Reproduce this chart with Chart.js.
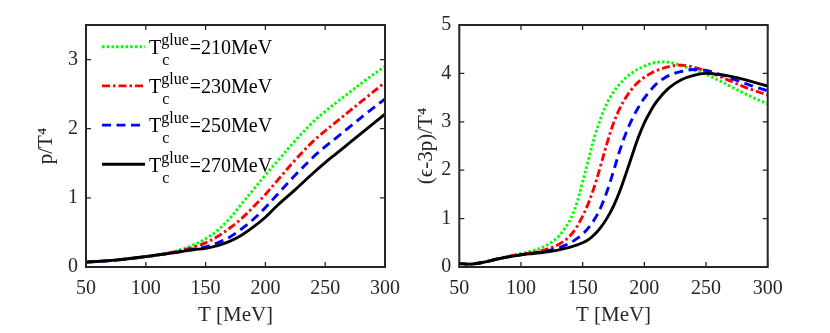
<!DOCTYPE html>
<html>
<head>
<meta charset="utf-8">
<script src="https://cdn.jsdelivr.net/npm/chart.js@4/dist/chart.umd.min.js"></script>
<style>
  body { margin: 0; background: #fff; }
  #wrap { position: relative; width: 830px; height: 333px; }
  #wrap canvas { position: absolute; top: 0; }
</style>
</head>
<body>
<div id="wrap">
  <canvas id="left" width="410" height="333" style="left:0"></canvas>
  <canvas id="right" width="420" height="333" style="left:410px"></canvas>
</div>
<script>
// Tc^glue values for the four curves
const tcGlue = ['210', '230', '250', '270'];
const colors = ['#00ff00', '#ff0000', '#0000ff', '#000000'];
const dashes = [[2.5, 2.2], [8, 3, 2.5, 3], [9, 5.5], []];

// left panel: p/T^4
const tempP = [50, 75, 100, 125, 140, 150, 160, 170, 180, 190, 200, 210, 225, 240, 250, 260, 270, 285, 300];
const p210 = [0.07, 0.10, 0.15, 0.23, 0.32, 0.41, 0.53, 0.70, 0.91, 1.12, 1.33, 1.53, 1.83, 2.10, 2.25, 2.39, 2.52, 2.72, 2.90];
const p230 = [0.07, 0.10, 0.15, 0.22, 0.29, 0.35, 0.44, 0.56, 0.70, 0.87, 1.05, 1.25, 1.55, 1.82, 1.97, 2.11, 2.25, 2.46, 2.67];
const p250 = [0.07, 0.10, 0.15, 0.21, 0.26, 0.29, 0.35, 0.43, 0.55, 0.69, 0.86, 1.05, 1.33, 1.59, 1.74, 1.88, 2.02, 2.23, 2.43];
const p270 = [0.07, 0.10, 0.15, 0.21, 0.25, 0.27, 0.31, 0.37, 0.46, 0.58, 0.72, 0.89, 1.12, 1.36, 1.51, 1.65, 1.79, 2.00, 2.21];

// right panel: (eps-3p)/T^4
const tempI = [50, 60, 70, 80, 90, 100, 110, 120, 130, 135, 140, 145, 150, 155, 160, 165, 170, 175, 180, 185, 190, 195, 200, 205, 210, 220, 230, 240, 250, 260, 270, 280, 290, 300];
const i210 = [0.07, 0.06, 0.10, 0.17, 0.23, 0.28, 0.34, 0.44, 0.62, 0.78, 0.98, 1.30, 1.76, 2.25, 2.72, 3.10, 3.40, 3.61, 3.78, 3.91, 4.01, 4.09, 4.15, 4.20, 4.23, 4.23, 4.16, 4.07, 3.98, 3.86, 3.73, 3.60, 3.48, 3.37];
const i230 = [0.07, 0.06, 0.10, 0.16, 0.22, 0.26, 0.30, 0.36, 0.46, 0.54, 0.65, 0.82, 1.05, 1.34, 1.70, 2.13, 2.58, 2.97, 3.27, 3.50, 3.68, 3.82, 3.92, 4.00, 4.06, 4.14, 4.17, 4.13, 4.05, 3.95, 3.84, 3.73, 3.64, 3.55];
const i250 = [0.07, 0.06, 0.10, 0.16, 0.21, 0.25, 0.29, 0.33, 0.39, 0.44, 0.50, 0.58, 0.68, 0.82, 1.00, 1.25, 1.58, 1.98, 2.40, 2.76, 3.05, 3.29, 3.49, 3.65, 3.79, 3.96, 4.04, 4.08, 4.06, 3.99, 3.90, 3.81, 3.72, 3.64];
const i270 = [0.07, 0.06, 0.10, 0.16, 0.21, 0.25, 0.28, 0.31, 0.35, 0.38, 0.41, 0.45, 0.50, 0.57, 0.68, 0.83, 1.02, 1.26, 1.56, 1.92, 2.30, 2.67, 2.98, 3.22, 3.42, 3.70, 3.87, 3.96, 4.00, 3.98, 3.94, 3.88, 3.81, 3.74];

const xTicks = [50, 100, 150, 200, 250, 300];
const pTicks = [0, 1, 2, 3];
const iTicks = [0, 1, 2, 3, 4, 5];

const serif = '"Liberation Serif", "DejaVu Serif", serif';
const axisColor = '#262626';

function makeSets(temps, series) {
  return series.map((vals, k) => ({
    label: 'Tc glue=' + tcGlue[k] + 'MeV',
    data: vals.map((v, j) => ({ x: temps[j], y: v })),
    borderColor: colors[k],
    borderDash: dashes[k],
    borderWidth: 2.9,
    pointRadius: 0,
    tension: 0.35,
    fill: false
  })).reverse();
}

// inward ticks on all four sides + box
const frame = {
  id: 'frame',
  afterDatasetsDraw(chart) {
    const { ctx, chartArea: a, scales: { x, y } } = chart;
    ctx.save();
    ctx.strokeStyle = axisColor;
    ctx.lineWidth = 1.3;
    ctx.beginPath();
    x.ticks.forEach(t => {
      const px = x.getPixelForValue(t.value);
      ctx.moveTo(px, a.bottom); ctx.lineTo(px, a.bottom - 5);
      ctx.moveTo(px, a.top); ctx.lineTo(px, a.top + 5);
    });
    y.ticks.forEach(t => {
      const py = y.getPixelForValue(t.value);
      ctx.moveTo(a.left, py); ctx.lineTo(a.left + 5, py);
      ctx.moveTo(a.right, py); ctx.lineTo(a.right - 5, py);
    });
    ctx.stroke();
    ctx.lineWidth = 2;
    ctx.strokeRect(a.left, a.top, a.right - a.left, a.bottom - a.top);
    ctx.restore();
  }
};

// legend with T_c^glue drawn as sub/superscript
const texLegend = {
  id: 'texLegend',
  afterDraw(chart) {
    const { ctx, chartArea: a } = chart;
    ctx.save();
    tcGlue.forEach((tc, k) => {
      const base = a.top + 29 + k * 39.2;
      const ly = base - 7.3;
      ctx.strokeStyle = colors[k];
      ctx.lineWidth = 2.9;
      ctx.setLineDash(dashes[k]);
      ctx.beginPath();
      ctx.moveTo(a.left + 16, ly);
      ctx.lineTo(a.left + 59, ly);
      ctx.stroke();
      ctx.setLineDash([]);
      ctx.fillStyle = '#000';
      ctx.textBaseline = 'alphabetic';
      let x0 = a.left + 63;
      ctx.font = '20px ' + serif;
      ctx.fillText('T', x0, base);
      x0 += ctx.measureText('T').width;
      ctx.font = '16px ' + serif;
      ctx.fillText('glue', x0, base - 9);
      ctx.fillText('c', x0 + 1, base + 11);
      x0 += ctx.measureText('glue').width + 1;
      ctx.font = '20px ' + serif;
      ctx.fillText('=' + tc + 'MeV', x0, base);
    });
    ctx.restore();
  }
};

function makeOptions(yMax, yTicks, yTitle, pad, yWidth) {
  return {
    responsive: false,
    animation: false,
    layout: { padding: pad },
    plugins: { legend: { display: false }, tooltip: { enabled: false } },
    scales: {
      x: {
        type: 'linear', min: 50, max: 300,
        grid: { display: false, drawTicks: false },
        border: { display: false },
        afterBuildTicks: s => { s.ticks = xTicks.map(v => ({ value: v })); },
        afterFit: s => { s.height = 66; },
        ticks: { color: axisColor, font: { family: serif, size: 20 }, padding: 10, autoSkip: false, maxRotation: 0 },
        title: { display: true, text: 'T [MeV]', color: axisColor, font: { family: serif, size: 21 }, padding: { top: 0, bottom: 5 } }
      },
      y: {
        type: 'linear', min: 0, max: yMax,
        grid: { display: false, drawTicks: false },
        border: { display: false },
        afterBuildTicks: s => { s.ticks = yTicks.map(v => ({ value: v })); },
        afterFit: s => { s.width = yWidth; },
        ticks: { color: axisColor, font: { family: serif, size: 20 }, padding: 8 },
        title: { display: true, text: yTitle, color: axisColor, font: { family: serif, size: 21 }, padding: { top: 4, bottom: 4 } }
      }
    }
  };
}

new Chart(document.getElementById('left'), {
  type: 'line',
  data: { datasets: makeSets(tempP, [p210, p230, p250, p270]) },
  options: makeOptions(3.5, pTicks, 'p/T⁴', { left: 30, right: 16, top: 25, bottom: 0 }, 56),
  plugins: [frame, texLegend]
});

new Chart(document.getElementById('right'), {
  type: 'line',
  data: { datasets: makeSets(tempI, [i210, i230, i250, i270]) },
  options: makeOptions(5, iTicks, '(ϵ-3p)/T⁴', { left: 0, right: 62.3, top: 25, bottom: 0 }, 49.3),
  plugins: [frame]
});
</script>
</body>
</html>
